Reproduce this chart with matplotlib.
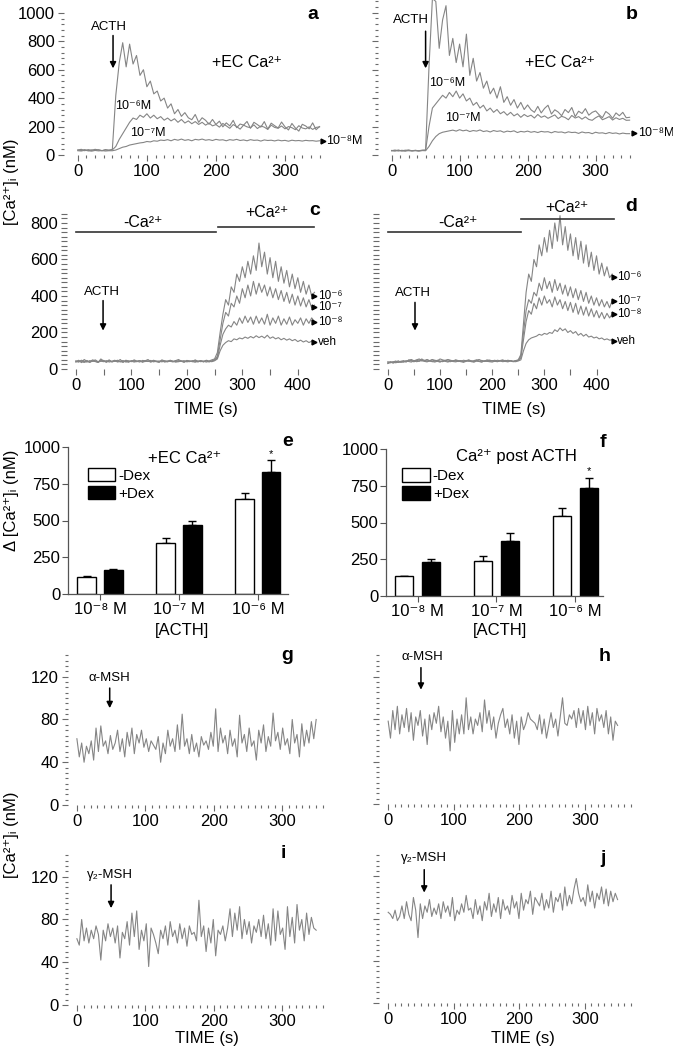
"""
ACTH / MSH calcium response figure (panels a-j)
"""
import matplotlib
matplotlib.use('Agg')
import matplotlib.pyplot as plt
import numpy as np

# Arial-like text, DejaVu as fallback for super/subscript glyphs
plt.rcParams['font.family'] = ['Liberation Sans', 'DejaVu Sans']

W, H = 673, 1050
TRACE = '#858585'

# ---- panel a (+EC Ca2+, 5 s sampling) ----
a_step = 5
a_1e6 = [35, 40, 30, 38, 32, 40, 35, 30, 38, 33,
         40, 420, 650, 790, 620, 780, 640, 700, 560, 600,
         480, 520, 430, 450, 380, 400, 330, 360, 290, 320,
         272, 298, 262, 248, 285, 230, 262, 244, 216, 250,
         215, 238, 198, 226, 205, 244, 192, 218, 210, 236,
         188, 230, 214, 196, 235, 182, 224, 206, 190, 232,
         198, 176, 222, 190, 168, 216, 204, 184, 226, 178,
         200]
a_1e7 = [35, 32, 38, 30, 36, 33, 37, 31, 35, 34,
         36, 60, 110, 150, 190, 230, 260, 250, 280, 265,
         290, 260, 280, 255, 270, 245, 260, 240, 255, 230,
         250, 225, 240, 220, 235, 215, 230, 210, 225, 205,
         214, 196, 222, 205, 188, 214, 200, 182, 210, 198,
         192, 212, 186, 204, 196, 180, 210, 194, 188, 204,
         184, 200, 192, 178, 206, 190, 184, 198, 180, 194,
         198]
a_1e8 = [30, 28, 33, 30, 27, 32, 29, 31, 28, 30,
         30, 35, 45, 55, 60, 70, 75, 80, 85, 88,
         95, 92, 100, 97, 105, 102, 108, 100, 110, 104,
         112, 103, 108, 100, 110, 106, 112, 104, 108, 102,
         110, 105, 107, 100, 108, 104, 110, 102, 106, 100,
         108, 103, 105, 98, 106, 102, 104, 99, 105, 100,
         103, 97, 104, 100, 102, 98, 103, 100, 101, 97,
         100]

# ---- panel b ----
b_1e6 = [30, 35, 28, 33, 30, 36, 29, 32, 30, 34,
         35, 620, 1100, 1080, 750, 950, 1050, 700, 820, 650,
         780, 620, 850, 560, 680, 520, 580, 470, 520, 430,
         470, 400, 480, 370, 410, 350, 390, 330, 370, 320,
         352, 318, 300, 342, 296, 328, 350, 288, 318, 302,
         276, 320, 298, 334, 270, 308, 292, 326, 280, 300,
         310, 284, 262, 306, 288, 258, 296, 276, 300, 262,
         265]
b_1e7 = [32, 30, 35, 28, 34, 31, 30, 33, 29, 32,
         33, 200, 330, 360, 390, 420, 400, 440, 410, 450,
         400, 430, 380, 400, 350, 370, 330, 350, 310, 330,
         300, 320, 290, 305, 280, 300, 275,
         290, 265, 285, 270, 280, 260, 285, 265, 275, 258,
         270, 282, 256, 272, 264, 248, 278, 260, 270, 252,
         268, 250, 244, 262, 275, 248, 258, 270, 246, 262,
         250, 258, 244, 245]
b_1e8 = [30, 28, 32, 30, 27, 31, 29, 30, 28, 31,
         30, 60, 100, 130, 150, 160, 165, 170, 175, 168,
         178,
         170, 175, 165, 172, 168, 176, 165, 170, 162, 172,
         166, 170, 160, 168, 164, 170, 158, 166, 162, 168,
         160, 165, 158, 166, 162, 164, 156, 165, 160, 162,
         155, 163, 158, 160, 152, 162, 156, 158, 150, 160,
         154, 156, 150, 158, 152, 155, 148, 154, 150, 150]

# ---- panel c (-Ca2+ then +Ca2+, 5 s sampling) ----
cd_step = 5
c_1e6 = [40, 48, 35, 52, 42, 38, 50, 45, 36, 55, 44, 40, 50, 38, 46, 42, 52, 37, 48, 44,
         40, 50, 43, 38, 47, 45, 52, 40, 46, 42, 38, 50, 44, 41, 48, 40, 46, 52, 43, 39,
         47, 44, 40, 50, 42, 46, 38, 48, 44, 50, 55,
         90, 200, 300, 380, 350, 450, 420, 520, 480, 560,
         500, 590, 520, 620, 540, 690, 560, 640, 520, 610,
         500, 590, 480, 560, 470, 540, 450, 520, 440, 500,
         420, 480, 410, 460, 400, 420]
c_1e7 = [42, 38, 45, 40, 47, 36, 44, 41, 38, 46, 43, 37, 45, 40, 42, 48, 39, 44, 41, 37,
         46, 42, 40, 45, 38, 44, 41, 47, 39, 43, 40, 45, 38, 44, 42, 39, 46, 41, 44, 38,
         43, 40, 46, 42, 39, 45, 41, 44, 40, 43, 48,
         70, 160, 250, 310, 290, 360, 340, 400, 360, 440,
         390, 460, 400, 480, 410, 470, 420, 460, 400, 450,
         390, 440, 380, 430, 370, 420, 360, 410, 350, 400,
         345, 390, 340, 380, 335, 350]
c_1e8 = [45, 40, 48, 43, 38, 46, 42, 50, 40, 44, 47, 39, 45, 42, 48, 40, 43, 46, 38, 44,
         41, 47, 42, 45, 39, 46, 43, 40, 48, 42, 44, 39, 45, 41, 47, 43, 40, 46, 42, 38,
         45, 43, 41, 47, 40, 44, 42, 46, 39, 45, 50,
         60, 130, 190, 220, 240, 230, 260, 240, 280, 250,
         290, 255, 285, 245, 290, 250, 280, 245, 300, 240,
         280, 250, 290, 240, 275, 245, 285, 240, 270, 250,
         280, 240, 275, 250, 280, 260]
c_veh = [38, 44, 40, 36, 42, 39, 45, 41, 37, 43, 40, 46, 38, 42, 44, 39, 41, 37, 45, 40,
         43, 38, 42, 46, 39, 41, 44, 38, 43, 40, 37, 45, 41, 39, 44, 42, 38, 40, 43, 46,
         39, 42, 41, 37, 44, 40, 43, 38, 42, 40, 45,
         55, 100, 130, 145, 155, 150, 165, 160, 170, 165,
         175, 168, 178, 170, 182, 172, 180, 170, 185, 168,
         176, 165, 172, 160, 168, 158, 165, 155, 162, 150,
         158, 148, 155, 145, 152, 148]

# ---- panel d ----
d_1e6 = [35, 40, 32, 38, 45, 36, 42, 38, 50, 44, 40, 48, 42, 55, 46, 50, 44, 52, 48, 45,
         55, 50, 46, 52, 48, 44, 50, 46, 42, 48, 45, 50, 44, 40, 48, 52, 45, 42, 50, 46,
         44, 48, 42, 46, 50, 44, 48, 45, 42, 46, 50,
         80, 250, 420, 520, 480, 600, 560, 680, 620, 720,
         640, 760, 660, 800, 700, 840, 680, 780, 650, 740,
         620, 720, 600, 700, 580, 680, 560, 640, 540, 620,
         520, 580, 510, 560, 500, 520]
d_1e7 = [30, 36, 40, 34, 38, 42, 46, 40, 48, 52, 45, 50, 55, 48, 44, 52, 46, 50, 42, 48,
         44, 40, 46, 50, 45, 42, 48, 44, 46, 40, 44, 48, 42, 46, 50, 43, 47, 41, 45, 49,
         44, 42, 48, 45, 43, 47, 44, 46, 42, 45, 48,
         70, 200, 320, 380, 360, 420, 400, 470, 430, 500,
         440, 480, 420, 490, 430, 470, 410, 460, 400, 450,
         390, 440, 380, 430, 370, 420, 360, 400, 350, 390,
         345, 380, 340, 370, 335, 375]
d_1e8 = [40, 34, 38, 44, 36, 40, 38, 45, 42, 48, 40, 46, 50, 44, 48, 42, 45, 40, 46, 42,
         38, 44, 48, 42, 40, 46, 43, 41, 45, 39, 47, 42, 44, 40, 46, 42, 38, 45, 43, 41,
         46, 42, 40, 44, 47, 41, 43, 45, 40, 44, 47,
         60, 160, 260, 320, 300, 360, 330, 390, 350, 400,
         360, 380, 340, 395, 350, 380, 330, 370, 320, 365,
         310, 360, 300, 345, 295, 340, 290, 330, 285, 320,
         280, 310, 275, 305, 280, 300]
d_veh = [32, 38, 35, 40, 37, 42, 39, 44, 41, 38, 45, 40, 43, 47, 42, 39, 44, 41, 38, 43,
         40, 45, 42, 38, 44, 41, 39, 43, 40, 37, 42, 45, 40, 38, 43, 41, 39, 44, 42, 40,
         38, 43, 41, 45, 40, 42, 39, 44, 41, 40, 44,
         50, 100, 140, 160, 170, 175, 180, 190, 185, 195,
         190, 200, 195, 215, 205, 225, 210, 220, 200, 210,
         195, 205, 185, 195, 180, 190, 175, 180, 170, 175,
         165, 170, 160, 165, 158, 160]

# ---- panels e, f (delta [Ca2+]i bars) ----
doses = ['10⁻⁸ M', '10⁻⁷ M', '10⁻⁶ M']
e_minus = [114, 345, 644]
e_minus_err = [10, 38, 41]
e_plus = [161, 469, 830]
e_plus_err = [11, 28, 79]
f_minus = [136, 240, 546]
f_minus_err = [3, 32, 54]
f_plus = [231, 376, 733]
f_plus_err = [20, 50, 72]

# ---- panels g-j (MSH, 3.5 s sampling) ----
msh_step = 3.5
g_alpha = [62, 45, 58, 40, 55, 48, 60, 42, 72, 50, 74, 55, 60, 48, 65, 52, 58, 70, 50, 62,
           45, 68, 55, 72, 48, 66, 58, 70, 54, 62, 50, 60, 56, 52, 64, 40, 58, 48, 70, 55,
           62, 50, 75, 52, 85, 55, 62, 48, 66, 50, 58, 45, 64, 56, 60, 52, 68, 55, 90, 50,
           72, 58, 65, 48, 70, 55, 62, 45, 84, 58, 66, 50, 72, 55, 60, 42, 70, 58, 75, 50,
           64, 55, 86, 60, 68, 52, 72, 56, 62, 48, 80, 58, 66, 45, 76, 55, 70, 58, 78, 62,
           80]
h_alpha = [78, 62, 88, 70, 92, 66, 84, 72, 90, 68, 86, 60, 82, 74, 88, 64, 80, 56, 84, 70,
           86, 76, 92, 68, 82, 62, 78, 50, 88, 58, 80, 66, 84, 66, 100, 70, 82, 66, 80, 74,
           86, 68, 98, 76, 88, 70, 82, 62, 76, 84, 90, 72, 80, 66, 84, 62, 78, 56, 82, 70,
           76, 86, 80, 78, 76, 70, 84, 66, 80, 62, 74, 86, 72, 80, 64, 82, 100, 76, 74, 84,
           80, 88, 72, 90, 76, 88, 70, 92, 74, 86, 66, 90, 78, 84, 72, 88, 66, 82, 60, 78,
           74]
i_gamma = [62, 56, 80, 60, 72, 58, 70, 62, 74, 66, 42, 70, 60, 76, 64, 72, 58, 74, 44, 68,
           62, 78, 56, 86, 64, 88, 52, 70, 60, 76, 36, 72, 66, 58, 48, 70, 62, 74, 56, 78,
           64, 70, 58, 76, 62, 72, 55, 74, 66, 68, 60, 98, 64, 74, 50, 72, 58, 80, 46, 70,
           66, 74, 60, 72, 90, 64, 86, 70, 92, 62, 80, 66, 78, 58, 74, 68, 80, 64, 84, 62,
           76, 56, 90, 60, 88, 66, 72, 52, 92, 64, 82, 58, 94, 70, 80, 60, 86, 66, 82, 72,
           70]
j_gamma = [86, 84, 80, 88, 78, 82, 92, 80, 96, 84, 78, 100, 88, 62, 94, 80, 92, 86, 98, 82,
           90, 84, 94, 80, 96, 86, 92, 82, 100, 78, 88, 84, 94, 86, 102, 88, 90, 80, 98, 84,
           92, 78, 96, 88, 104, 82, 94, 86, 100, 80, 98, 88, 92, 84, 102, 90, 96, 80, 104, 88,
           98, 94, 106, 84, 100, 96, 92, 104, 88, 98, 90, 106, 86, 100, 96, 104, 88, 110, 92, 102,
           94, 108, 118, 104, 96, 100, 92, 112, 96, 106, 90, 104, 98, 110, 94, 108, 92, 106, 96, 104,
           98]


def px_axes(fig, left, top, right, bottom):
    """axes placed by pixel box of the 673x1050 figure"""
    return fig.add_axes([left / W, 1 - bottom / H, (right - left) / W, (bottom - top) / H])


def fig_text(fig, x, y, s, **kw):
    fig.text(x / W, 1 - y / H, s, **kw)


def style_trace(ax, xlim, ylim, xmajor, xminor, ymajor, yminor, ylabels=True, minor_len=2.5):
    ax.set_xlim(*xlim)
    ax.set_ylim(*ylim)
    for sp in ax.spines.values():
        sp.set_visible(False)
    ax.set_xticks(xmajor)
    ax.set_xticks(xminor, minor=True)
    ax.set_yticks(ymajor)
    ax.set_yticks(yminor, minor=True)
    ax.tick_params(which='both', direction='out', color='#6a6a6a', width=0.8, labelsize=12, pad=2)
    ax.tick_params(which='major', length=4.5)
    ax.tick_params(which='minor', length=minor_len)
    if not ylabels:
        ax.set_yticklabels([])
    ax.patch.set_alpha(0)


def trace(ax, vals, step):
    t = np.arange(len(vals)) * step
    ax.plot(t, vals, color=TRACE, lw=0.8)


def arrow(ax, x, y0, y1):
    ax.annotate('', xy=(x, y1), xytext=(x, y0),
                arrowprops=dict(arrowstyle='-|>', color='black', lw=1.1, mutation_scale=9))


def end_label(ax, x, y, s, dx, size=8.5):
    ax.plot([x], [y], marker='>', ms=3.5, color='black', clip_on=False)
    ax.text(x + dx, y, s, fontsize=size, ha='left', va='center')


def letter(ax, x, y, s):
    ax.text(x, y, s, fontsize=14, fontweight='bold', ha='center', va='center')


def bars(ax, minus, minus_err, plus, plus_err, xlim):
    x = np.arange(len(doses))
    off, wid = 0.17, 0.23
    ax.bar(x - off, minus, wid, color='white', edgecolor='black', lw=1, label='-Dex', zorder=2)
    ax.bar(x + off, plus, wid, color='black', edgecolor='black', lw=1, label='+Dex', zorder=2)
    zeros = np.zeros(len(doses))
    ax.errorbar(x - off, minus, yerr=[zeros, minus_err], fmt='none', ecolor='black',
                capsize=3, elinewidth=1, capthick=1, zorder=1)
    ax.errorbar(x + off, plus, yerr=[zeros, plus_err], fmt='none', ecolor='black',
                capsize=3, elinewidth=1, capthick=1, zorder=1)
    # significance mark on the top dose
    ax.text(x[-1] + off, plus[-1] + plus_err[-1] + 8, '*', fontsize=8, ha='center', va='bottom')
    ax.set_xlim(*xlim)
    ax.set_ylim(0, 1000)
    ax.set_yticks([0, 250, 500, 750, 1000])
    ax.set_xticks(x)
    ax.set_xticklabels(doses)
    for side in ['top', 'right']:
        ax.spines[side].set_visible(False)
    for side in ['left', 'bottom']:
        ax.spines[side].set_color('#555555')
        ax.spines[side].set_linewidth(0.9)
    ax.tick_params(which='both', direction='out', color='#555555', length=4, labelsize=12, pad=1.5)
    ax.legend(loc='upper left', frameon=False, fontsize=11, handlelength=1.8, handleheight=1.0,
              handletextpad=0.2, labelspacing=0.2, borderpad=0, borderaxespad=0)
    return ax.get_legend()


def main():
    fig = plt.figure(figsize=(W / 100, H / 100), dpi=100)

    xs_ab = dict(xlim=(-20, 355), xmajor=[0, 100, 200, 300], xminor=np.arange(0, 351, 12.5))

    # a
    ax = px_axes(fig, 64, 10, 323, 155)
    style_trace(ax, ylim=(0, 1020), ymajor=np.arange(0, 1001, 200), yminor=np.arange(0, 1001, 40), **xs_ab)
    for v in (a_1e6, a_1e7, a_1e8):
        trace(ax, v, a_step)
    ax.text(45, 900, 'ACTH', fontsize=9.5, ha='center', va='center')
    arrow(ax, 51, 860, 590)
    ax.text(245, 648, '+EC Ca²⁺', fontsize=11.5, ha='center', va='center')
    ax.text(80, 345, '10⁻⁶M', fontsize=9, ha='center', va='center')
    ax.text(101, 155, '10⁻⁷M', fontsize=9, ha='center', va='center')
    end_label(ax, 355, 100, '10⁻⁸M', 5, 9)
    letter(ax, 340, 990, 'a')

    # b
    ax = px_axes(fig, 378, 0, 633, 155)
    style_trace(ax, ylim=(0, 1090), ymajor=np.arange(0, 1001, 200), yminor=np.arange(0, 1081, 40),
                ylabels=False, **xs_ab)
    for v in (b_1e6, b_1e7, b_1e8):
        trace(ax, v, a_step)
    ax.text(28, 950, 'ACTH', fontsize=9.5, ha='center', va='center')
    arrow(ax, 50, 890, 590)
    ax.text(247, 648, '+EC Ca²⁺', fontsize=11.5, ha='center', va='center')
    ax.text(82, 507, '10⁻⁶M', fontsize=9, ha='center', va='center')
    ax.text(105, 260, '10⁻⁷M', fontsize=9, ha='center', va='center')
    end_label(ax, 357, 155, '10⁻⁸M', 5, 9)
    letter(ax, 353, 985, 'b')

    # c
    ax = px_axes(fig, 67, 212, 320, 369)
    style_trace(ax, xlim=(-16, 440), ylim=(0, 860), xmajor=[0, 100, 200, 300, 400],
                xminor=np.arange(0, 431, 50), ymajor=np.arange(0, 801, 200),
                yminor=np.arange(0, 851, 25), minor_len=4)
    for v in (c_1e6, c_1e7, c_1e8, c_veh):
        trace(ax, v, cd_step)
    ax.plot([0, 252], [750, 750], color='#333333', lw=1.2)
    ax.plot([256, 429], [780, 780], color='#333333', lw=1.2, clip_on=False)
    ax.text(121, 805, '-Ca²⁺', fontsize=11.5, ha='center', va='center')
    ax.text(344, 855, '+Ca²⁺', fontsize=11.5, ha='center', va='center')
    ax.text(47, 420, 'ACTH', fontsize=9.5, ha='center', va='center')
    arrow(ax, 49, 390, 195)
    for y, s in zip([398, 340, 258, 148], ['10⁻⁶', '10⁻⁷', '10⁻⁸', 'veh']):
        end_label(ax, 430, y, s, 6)
    letter(ax, 430, 870, 'c')

    # d
    ax = px_axes(fig, 379, 212, 620, 369)
    style_trace(ax, xlim=(-17, 445), ylim=(0, 860), xmajor=[0, 100, 200, 300, 400],
                xminor=np.arange(0, 431, 50), ymajor=np.arange(0, 801, 200),
                yminor=np.arange(0, 851, 25), ylabels=False, minor_len=4)
    for v in (d_1e6, d_1e7, d_1e8, d_veh):
        trace(ax, v, cd_step)
    ax.plot([0, 255], [750, 750], color='#333333', lw=1.2)
    ax.plot([255, 434], [822, 822], color='#333333', lw=1.2)
    ax.text(134, 805, '-Ca²⁺', fontsize=11.5, ha='center', va='center')
    ax.text(344, 882, '+Ca²⁺', fontsize=11.5, ha='center', va='center')
    ax.text(48, 415, 'ACTH', fontsize=9.5, ha='center', va='center')
    arrow(ax, 52, 380, 195)
    for y, s in zip([505, 372, 300, 153], ['10⁻⁶', '10⁻⁷', '10⁻⁸', 'veh']):
        end_label(ax, 433, y, s, 6)
    letter(ax, 467, 888, 'd')

    fig_text(fig, 206, 410, 'TIME (s)', fontsize=12, ha='center', va='center')
    fig_text(fig, 514, 410, 'TIME (s)', fontsize=12, ha='center', va='center')

    # e
    ax = px_axes(fig, 68, 447, 288, 594)
    leg = bars(ax, e_minus, e_minus_err, e_plus, e_plus_err, (-0.405, 2.38))
    leg.set_bbox_to_anchor((0.09, 0.86), transform=ax.transAxes)
    ax.text(0.53, 0.925, '+EC Ca²⁺', transform=ax.transAxes, fontsize=12, ha='center', va='center')
    ax.text(1.0, 1.035, 'e', transform=ax.transAxes, fontsize=14, fontweight='bold', ha='center', va='center')

    # f
    ax = px_axes(fig, 386, 449, 603, 596)
    leg = bars(ax, f_minus, f_minus_err, f_plus, f_plus_err, (-0.4, 2.35))
    leg.set_bbox_to_anchor((0.075, 0.87), transform=ax.transAxes)
    ax.text(0.60, 0.95, 'Ca²⁺ post ACTH', transform=ax.transAxes, fontsize=12, ha='center', va='center')
    ax.text(1.0, 1.045, 'f', transform=ax.transAxes, fontsize=14, fontweight='bold', ha='center', va='center')

    fig_text(fig, 182, 630, '[ACTH]', fontsize=12, ha='center', va='center')
    fig_text(fig, 500, 630, '[ACTH]', fontsize=12, ha='center', va='center')

    # g - j
    ys = dict(ylim=(0, 145), ymajor=[0, 40, 80, 120], yminor=np.arange(0, 141, 5))
    xs_l = dict(xlim=(-13, 360), xmajor=[0, 100, 200, 300], xminor=np.arange(0, 361, 10))
    xs_r = dict(xlim=(-14, 372), xmajor=[0, 100, 200, 300], xminor=np.arange(0, 371, 10))

    ax = px_axes(fig, 68, 650, 323, 805)
    style_trace(ax, **xs_l, **ys)
    trace(ax, g_alpha, msh_step)
    ax.text(48, 119, 'α-MSH', fontsize=9.5, ha='center', va='center')
    arrow(ax, 48, 112, 88)
    letter(ax, 307, 140, 'g')

    ax = px_axes(fig, 379, 650, 632, 804)
    style_trace(ax, **xs_r, **ys, ylabels=False)
    trace(ax, h_alpha, msh_step)
    ax.text(52, 138, 'α-MSH', fontsize=9.5, ha='center', va='center')
    arrow(ax, 50, 131, 105)
    letter(ax, 330, 139, 'h')

    ax = px_axes(fig, 68, 850, 323, 1005)
    style_trace(ax, **xs_l, **ys)
    trace(ax, i_gamma, msh_step)
    ax.text(48, 122, 'γ₂-MSH', fontsize=9.5, ha='center', va='center')
    arrow(ax, 50, 115, 88)
    letter(ax, 302, 142, 'i')

    ax = px_axes(fig, 379, 850, 632, 1003)
    style_trace(ax, **xs_r, **ys, ylabels=False)
    trace(ax, j_gamma, msh_step)
    ax.text(55, 137, 'γ₂-MSH', fontsize=9.5, ha='center', va='center')
    arrow(ax, 55, 129, 102)
    letter(ax, 327, 137, 'j')

    fig_text(fig, 207, 1039, 'TIME (s)', fontsize=12, ha='center', va='center')
    fig_text(fig, 523, 1039, 'TIME (s)', fontsize=12, ha='center', va='center')

    # shared y labels
    ylab = '[Ca²⁺]ᵢ (nM)'
    fig_text(fig, 12, 182, ylab, fontsize=12, rotation=90, ha='center', va='center')
    fig_text(fig, 12, 500, 'Δ [Ca²⁺]ᵢ (nM)', fontsize=12, rotation=90, ha='center', va='center')
    fig_text(fig, 12, 835, ylab, fontsize=12, rotation=90, ha='center', va='center')

    fig.savefig('out.png', dpi=100)
    plt.close(fig)


if __name__ == "__main__":
    main()
